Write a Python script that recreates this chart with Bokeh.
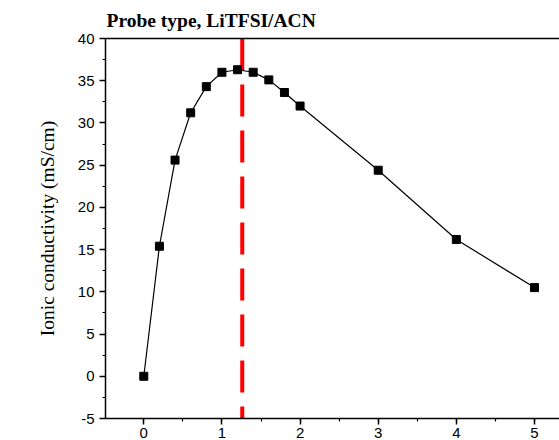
from bokeh.plotting import figure
from bokeh.models import Range1d, SingleIntervalTicker, FixedTicker, LinearAxis, Title, CustomJSTickFormatter
from bokeh.embed import file_html
from bokeh.resources import INLINE

# data
x_vals = [0, 0.2, 0.4, 0.6, 0.8, 1.0, 1.2, 1.4, 1.6, 1.8, 2, 3, 4, 5]
conductivity = [0.0, 15.4, 25.6, 31.2, 34.3, 36.0, 36.3, 36.0, 35.1, 33.6, 32.0, 24.4, 16.2, 10.5]
marker_x = 1.26
marker_span = [40, -5]
title_text = "Probe type, LiTFSI/ACN"
y_label = "Ionic conductivity (mS/cm)"

p = figure(width=559, height=440, output_backend="svg", toolbar_location=None,
           x_range=Range1d(-0.49, 5.32), y_range=Range1d(-5, 40),
           x_axis_location=None, y_axis_location=None,
           min_border_left=105, min_border_right=0, min_border_top=38, min_border_bottom=0)
p.grid.visible = False
p.outline_line_color = None
p.background_fill_color = "white"
p.border_fill_color = "white"

p.title = Title(text=title_text, text_font="Liberation Serif", text_font_style="bold",
                text_font_size="19.5px", text_color="black", align="left", offset=1,
                standoff=12, vertical_align="top")

fmt = CustomJSTickFormatter(code="return String(tick);")

# axes
xa = LinearAxis(ticker=SingleIntervalTicker(interval=1, num_minor_ticks=2), formatter=fmt)
ya = LinearAxis(ticker=SingleIntervalTicker(interval=5, num_minor_ticks=2), formatter=fmt,
                axis_label=y_label)
top = LinearAxis(ticker=FixedTicker(ticks=[]))
for ax in (xa, ya, top):
    ax.axis_line_color = "black"
    ax.axis_line_width = 1.5
    ax.major_tick_line_color = "black"
    ax.minor_tick_line_color = "black"
    ax.major_tick_line_width = 1.5
    ax.minor_tick_line_width = 1.2
    ax.major_tick_in = 0
    ax.minor_tick_in = 0
    ax.major_tick_out = 6
    ax.minor_tick_out = 3
    ax.major_label_text_font = "Liberation Sans"
    ax.major_label_text_font_size = "15px"
    ax.major_label_text_color = "black"
    ax.major_label_standoff = 5
xa.major_label_standoff = 3
ya.axis_label_text_font = "Liberation Serif"
ya.axis_label_text_font_style = "normal"
ya.axis_label_text_font_size = "19.5px"
ya.axis_label_text_color = "black"
ya.axis_label_standoff = 17
top.major_tick_out = 0
top.minor_tick_out = 0

p.add_layout(xa, "below")
p.add_layout(ya, "left")
p.add_layout(top, "above")

# red dashed marker line
p.line([marker_x, marker_x], marker_span, line_color="#ff0000", line_width=4, line_dash="32 14")

# data
p.line(x_vals, conductivity, line_color="black", line_width=1.2)
p.scatter(x_vals, conductivity, marker="square", size=8, fill_color="black", line_color="black")

open("out.html", "w").write(file_html(p, INLINE))
